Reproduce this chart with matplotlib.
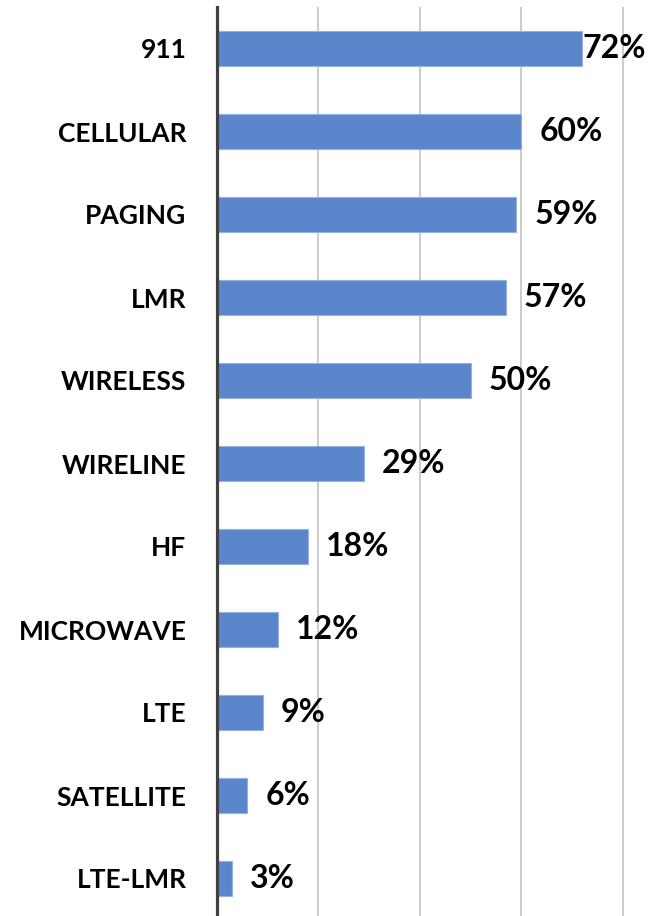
import matplotlib.pyplot as plt

# Dados
categorias = ['911', 'CELLULAR', 'PAGING', 'LMR', 'WIRELESS', 'WIRELINE',
              'HF', 'MICROWAVE', 'LTE', 'SATELLITE', 'LTE-LMR']
valores = [72, 60, 59, 57, 50, 29, 18, 12, 9, 6, 3]
grade = [20, 40, 60, 80]

plt.rcParams['font.family'] = ['Lato', 'DejaVu Sans']

W, H = 649, 916
fig = plt.figure(figsize=(W / 100, H / 100), dpi=100)

# eixo: x de 217 px ate a borda, y de 7 px ate um pouco abaixo da figura
x0, y_top, y_bot = 217, 7, 920
ax = fig.add_axes([x0 / W, (H - y_bot) / H, (W - x0) / W, (y_bot - y_top) / H])

pos = list(range(len(categorias)))
ax.barh(pos, valores, height=0.41, color='#5B86CC', edgecolor='#94B1E0',
        linewidth=0.8, zorder=3)

ax.set_ylim(len(categorias) - 0.5, -0.5)
ax.set_xlim(0, (W - x0) / 5.07)

ax.set_yticks(pos)
ax.set_yticklabels(categorias, fontsize=19, fontweight='bold')
ax.tick_params(axis='y', length=0, pad=22)
ax.set_xticks(grade)
ax.tick_params(axis='x', length=0, labelbottom=False)
ax.grid(axis='x', color='#c8c8c8', linewidth=1.3, zorder=0)
ax.set_axisbelow(True)

for s in ['top', 'right', 'bottom']:
    ax.spines[s].set_visible(False)
ax.spines['left'].set_color('#404040')
ax.spines['left'].set_linewidth(2.3)
ax.spines['left'].set_zorder(4)

# rotulos de valor
for i, v in enumerate(valores):
    desloc = 0.5 if v == max(valores) else 13
    ax.annotate(f'{v}%', xy=(v, i), xytext=(desloc, 0), textcoords='offset points',
                va='center', ha='left', fontsize=23, fontweight='bold',
                annotation_clip=False)

plt.savefig('out.png', dpi=100)
